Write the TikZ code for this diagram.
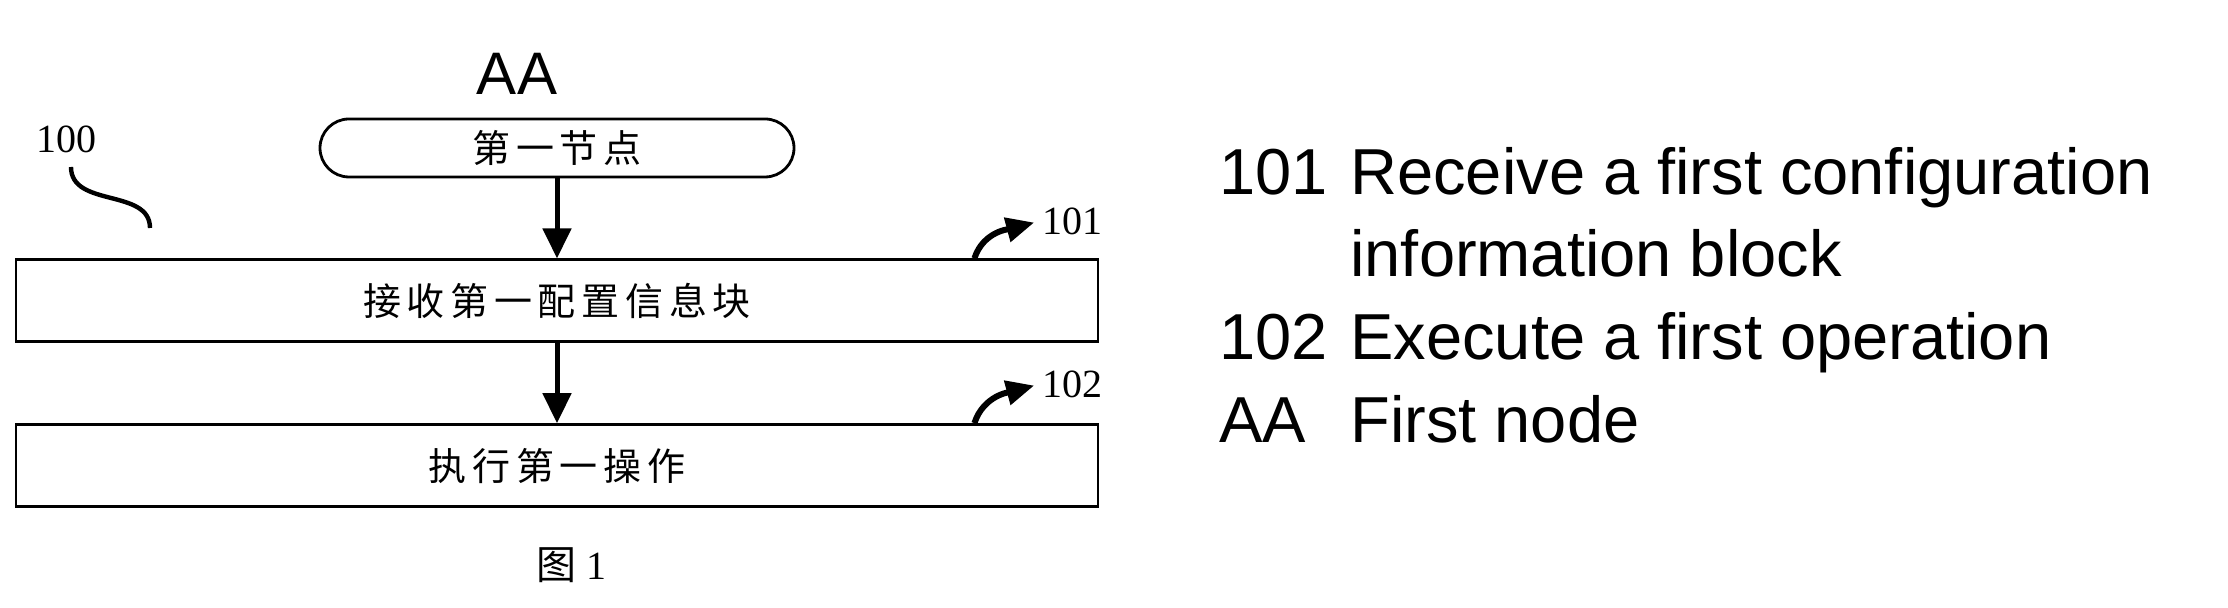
\documentclass[tikz,border=0pt]{standalone}
\usepackage{fontspec}
\setmainfont{Liberation Serif}
\newfontfamily\arial{Liberation Sans}
\newfontfamily\cjk[LetterSpace=15]{Noto Sans CJK SC}
\newfontfamily\cjkfig{Noto Sans CJK SC}
\usetikzlibrary{arrows.meta, positioning}

\tikzset{
  caja/.style={draw, line width=1.4pt, minimum width=541pt, minimum height=41pt,
    inner sep=0pt, font=\cjk\fontsize{19}{22}\selectfont},
  nodo/.style={draw, line width=1.4pt, rounded corners=14.5pt, minimum width=237pt,
    minimum height=29pt, inner sep=0pt, font=\cjk\fontsize{19}{22}\selectfont},
  flecha/.style={line width=2.5pt, -{Triangle[length=15pt,width=14pt]}},
  gancho/.style={line width=3pt, shorten >=3pt, -{Triangle[length=14pt,width=12pt]}},
  ref/.style={font=\fontsize{20}{24}\selectfont, inner sep=1pt},
  leyenda/.style={font=\arial\fontsize{32.5}{38}\selectfont, inner sep=0pt, anchor=base west}
}

\begin{document}
\begin{tikzpicture}[x=0.5pt,y=0.5pt]
  \useasboundingbox (0,0) rectangle (2228,608);

  % Nodos del diagrama
  \node[nodo] (primero) at (557,460) {第一节点};
  \node[caja, below=40pt of primero] (recibir) {接收第一配置信息块};
  \node[caja, below=40pt of recibir] (ejecutar) {执行第一操作};
  \node[font=\arial\fontsize{30}{36}\selectfont, inner sep=0pt, anchor=base] (aa) at (517,513) {AA};

  % Flechas principales
  \draw[flecha] (primero) -- (recibir);
  \draw[flecha] (recibir) -- (ejecutar);

  % Referencias 101 y 102
  \coordinate (g1) at ([xshift=-62.5pt]recibir.north east);
  \coordinate (g2) at ([xshift=-62.5pt]ejecutar.north east);
  \node[ref, anchor=west] (r101) at (1040,387) {101};
  \node[ref, anchor=west] (r102) at (1040,224) {102};
  \draw[gancho] (g1) to[out=72,in=195] (r101.west);
  \draw[gancho] (g2) to[out=72,in=195] (r102.west);

  % Referencia 100
  \node[ref] (r100) at (66,469) {100};
  \draw[line width=2.2pt] (71,441) .. controls (71,400) and (150,420) .. (150,380);

  % Pie de figura
  \node[font=\fontsize{20}{24}\selectfont] (fig) at (571,43) {{\cjkfig 图} 1};

  % Leyenda
  \node[leyenda] (n101) at (1219,413) {101};
  \node[leyenda] (t101) at (1350,413) {Receive a first configuration};
  \node[leyenda] (t101b) at (1350,331) {information block};
  \node[leyenda] (n102) at (1219,248) {102};
  \node[leyenda] (t102) at (1350,248) {Execute a first operation};
  \node[leyenda] (naa) at (1219,165) {AA};
  \node[leyenda] (taa) at (1350,165) {First node};
\end{tikzpicture}
\end{document}
